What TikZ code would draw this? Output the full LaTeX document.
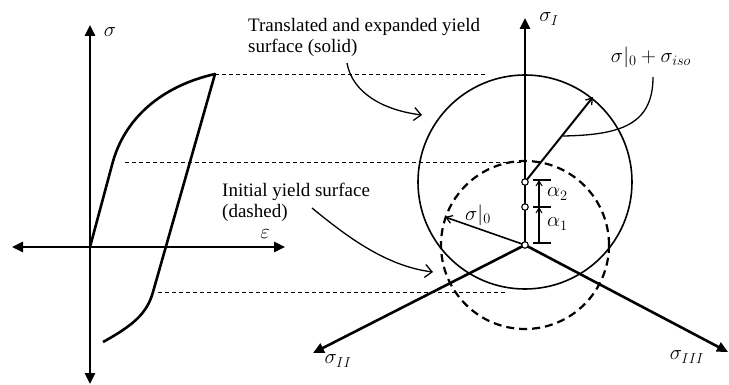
\documentclass[tikz,border=0pt]{standalone}
\usepackage{fontspec}
\setmainfont{Liberation Serif}
\usetikzlibrary{arrows.meta}
\begin{document}
\begin{tikzpicture}[x=1pt,y=-1pt,
  tipT/.tip={Triangle[length=11pt,width=10pt]},
  laxis/.style={line width=2.6pt,{tipT}-{tipT}},
  axis/.style={line width=2.6pt,-{tipT}},
  curve/.style={line width=2.6pt,line join=round},
  guide/.style={line width=0.9pt,dash pattern=on 4pt off 3pt},
  callout/.style={line width=1.3pt,-{Straight Barb[length=7pt,width=13pt,line width=1.3pt]}},
  leader/.style={line width=1.3pt},
  vec/.style={line width=2pt,-{Straight Barb[length=6pt,width=8pt,line width=1.3pt]}},
  dim/.style={line width=1.1pt,-{Straight Barb[length=5pt,width=6pt,line width=1pt]}},
  tick/.style={line width=1.1pt},
  solidcirc/.style={line width=1.6pt},
  dashcirc/.style={line width=2.2pt,dash pattern=on 8pt off 5pt},
  lbl/.style={font=\fontsize{19}{21}\selectfont,align=left,inner sep=0pt},
  mlbl/.style={font=\fontsize{22}{24}\selectfont,inner sep=0pt},
  pt/.style={circle,draw,fill=white,line width=1.1pt,minimum size=6.5pt,inner sep=0pt}]
\useasboundingbox (0,0) rectangle (729,385);

% ---------- left: stress-strain ----------
\coordinate (lo) at (90,247);
\coordinate (ltop) at (90,25);
\coordinate (lbot) at (90,384);
\coordinate (lleft) at (12,247);
\coordinate (lright) at (285,247);
\coordinate (ly) at (112,165);
\coordinate (lpeak) at (215,74);
\coordinate (lknee) at (153,292);
\coordinate (lend) at (103,342);

\draw[curve] (lo) -- (ly) .. controls (124,118) and (162,86) .. (lpeak)
  -- (lknee) .. controls (147,314) and (132,326) .. (lend);
\draw[laxis] (lbot) -- (ltop);
\draw[laxis] (lleft) -- (lright);
\node[mlbl] (sig) at (110,32) {$\sigma$};
\node[mlbl] (eps) at (265,234) {$\varepsilon$};

% guide lines
\coordinate (g1a) at (215,74);  \coordinate (g1b) at (485,74);
\coordinate (g2a) at (125,162); \coordinate (g2b) at (525,162);
\coordinate (g3a) at (158,292); \coordinate (g3b) at (505,292);
\draw[guide] (g1a) -- (g1b);
\draw[guide] (g2a) -- (g2b);
\draw[guide] (g3a) -- (g3b);

% ---------- right: principal stress space ----------
\coordinate (O) at (525,245);
\coordinate (A1) at (525,207);
\coordinate (C) at (525,182);
\coordinate (Itip) at (525,18);
\coordinate (IItip) at (313,353);
\coordinate (IIItip) at (728,352);

\draw[solidcirc] (C) circle[radius=107pt];
\draw[dashcirc] (O) circle[radius=84pt];

\draw[axis] (O) -- (Itip);
\draw[axis] (O) -- (IItip);
\draw[axis] (O) -- (IIItip);

\coordinate (R) at (593,97);
\coordinate (S0) at (445,217);
\draw[vec] (C) -- (R);
\draw[vec,line width=1.6pt] (O) -- (S0);

% alpha dimensions
\coordinate (d0) at (539,243);
\coordinate (d1) at (539,207);
\coordinate (d2) at (539,180);
\draw[dim] (d0) -- (d1);
\draw[dim] (d1) -- (d2);
\draw[tick] (533,243) -- (551,243);
\draw[tick] (533,207) -- (551,207);
\draw[tick] (533,180) -- (551,180);

\node[pt] (pO) at (O) {};
\node[pt] (pA) at (A1) {};
\node[pt] (pC) at (C) {};

\node[mlbl,anchor=west] (a2) at (547,194) {$\alpha_2$};
\node[mlbl,anchor=west] (a1) at (547,224) {$\alpha_1$};
\node[mlbl] (s0) at (478,215) {$\sigma|_0$};
\node[mlbl] (sI) at (549,19) {$\sigma_I$};
\node[mlbl] (sII) at (338,361) {$\sigma_{II}$};
\node[mlbl] (sIII) at (687,357) {$\sigma_{III}$};
\node[mlbl] (siso) at (651,57) {$\sigma|_0+\sigma_{iso}$};

\coordinate (lead0) at (653,77);
\coordinate (lead1) at (563,136);
\draw[leader] (lead0) .. controls (653,125) and (620,135) .. (lead1);

% text callouts
\node[lbl,anchor=north west] (tsolid) at (248,18) {Translated and expanded yield\\surface (solid)};
\node[lbl,anchor=north west] (tdash) at (222,183) {Initial yield surface\\(dashed)};

\coordinate (c1a) at (347,63);
\coordinate (c1b) at (422,115);
\draw[callout] (c1a) .. controls (352,92) and (382,110) .. (c1b);
\coordinate (c2a) at (312,208);
\coordinate (c2b) at (433,272);
\draw[callout] (c2a) .. controls (345,235) and (385,266) .. (c2b);
\end{tikzpicture}
\end{document}
